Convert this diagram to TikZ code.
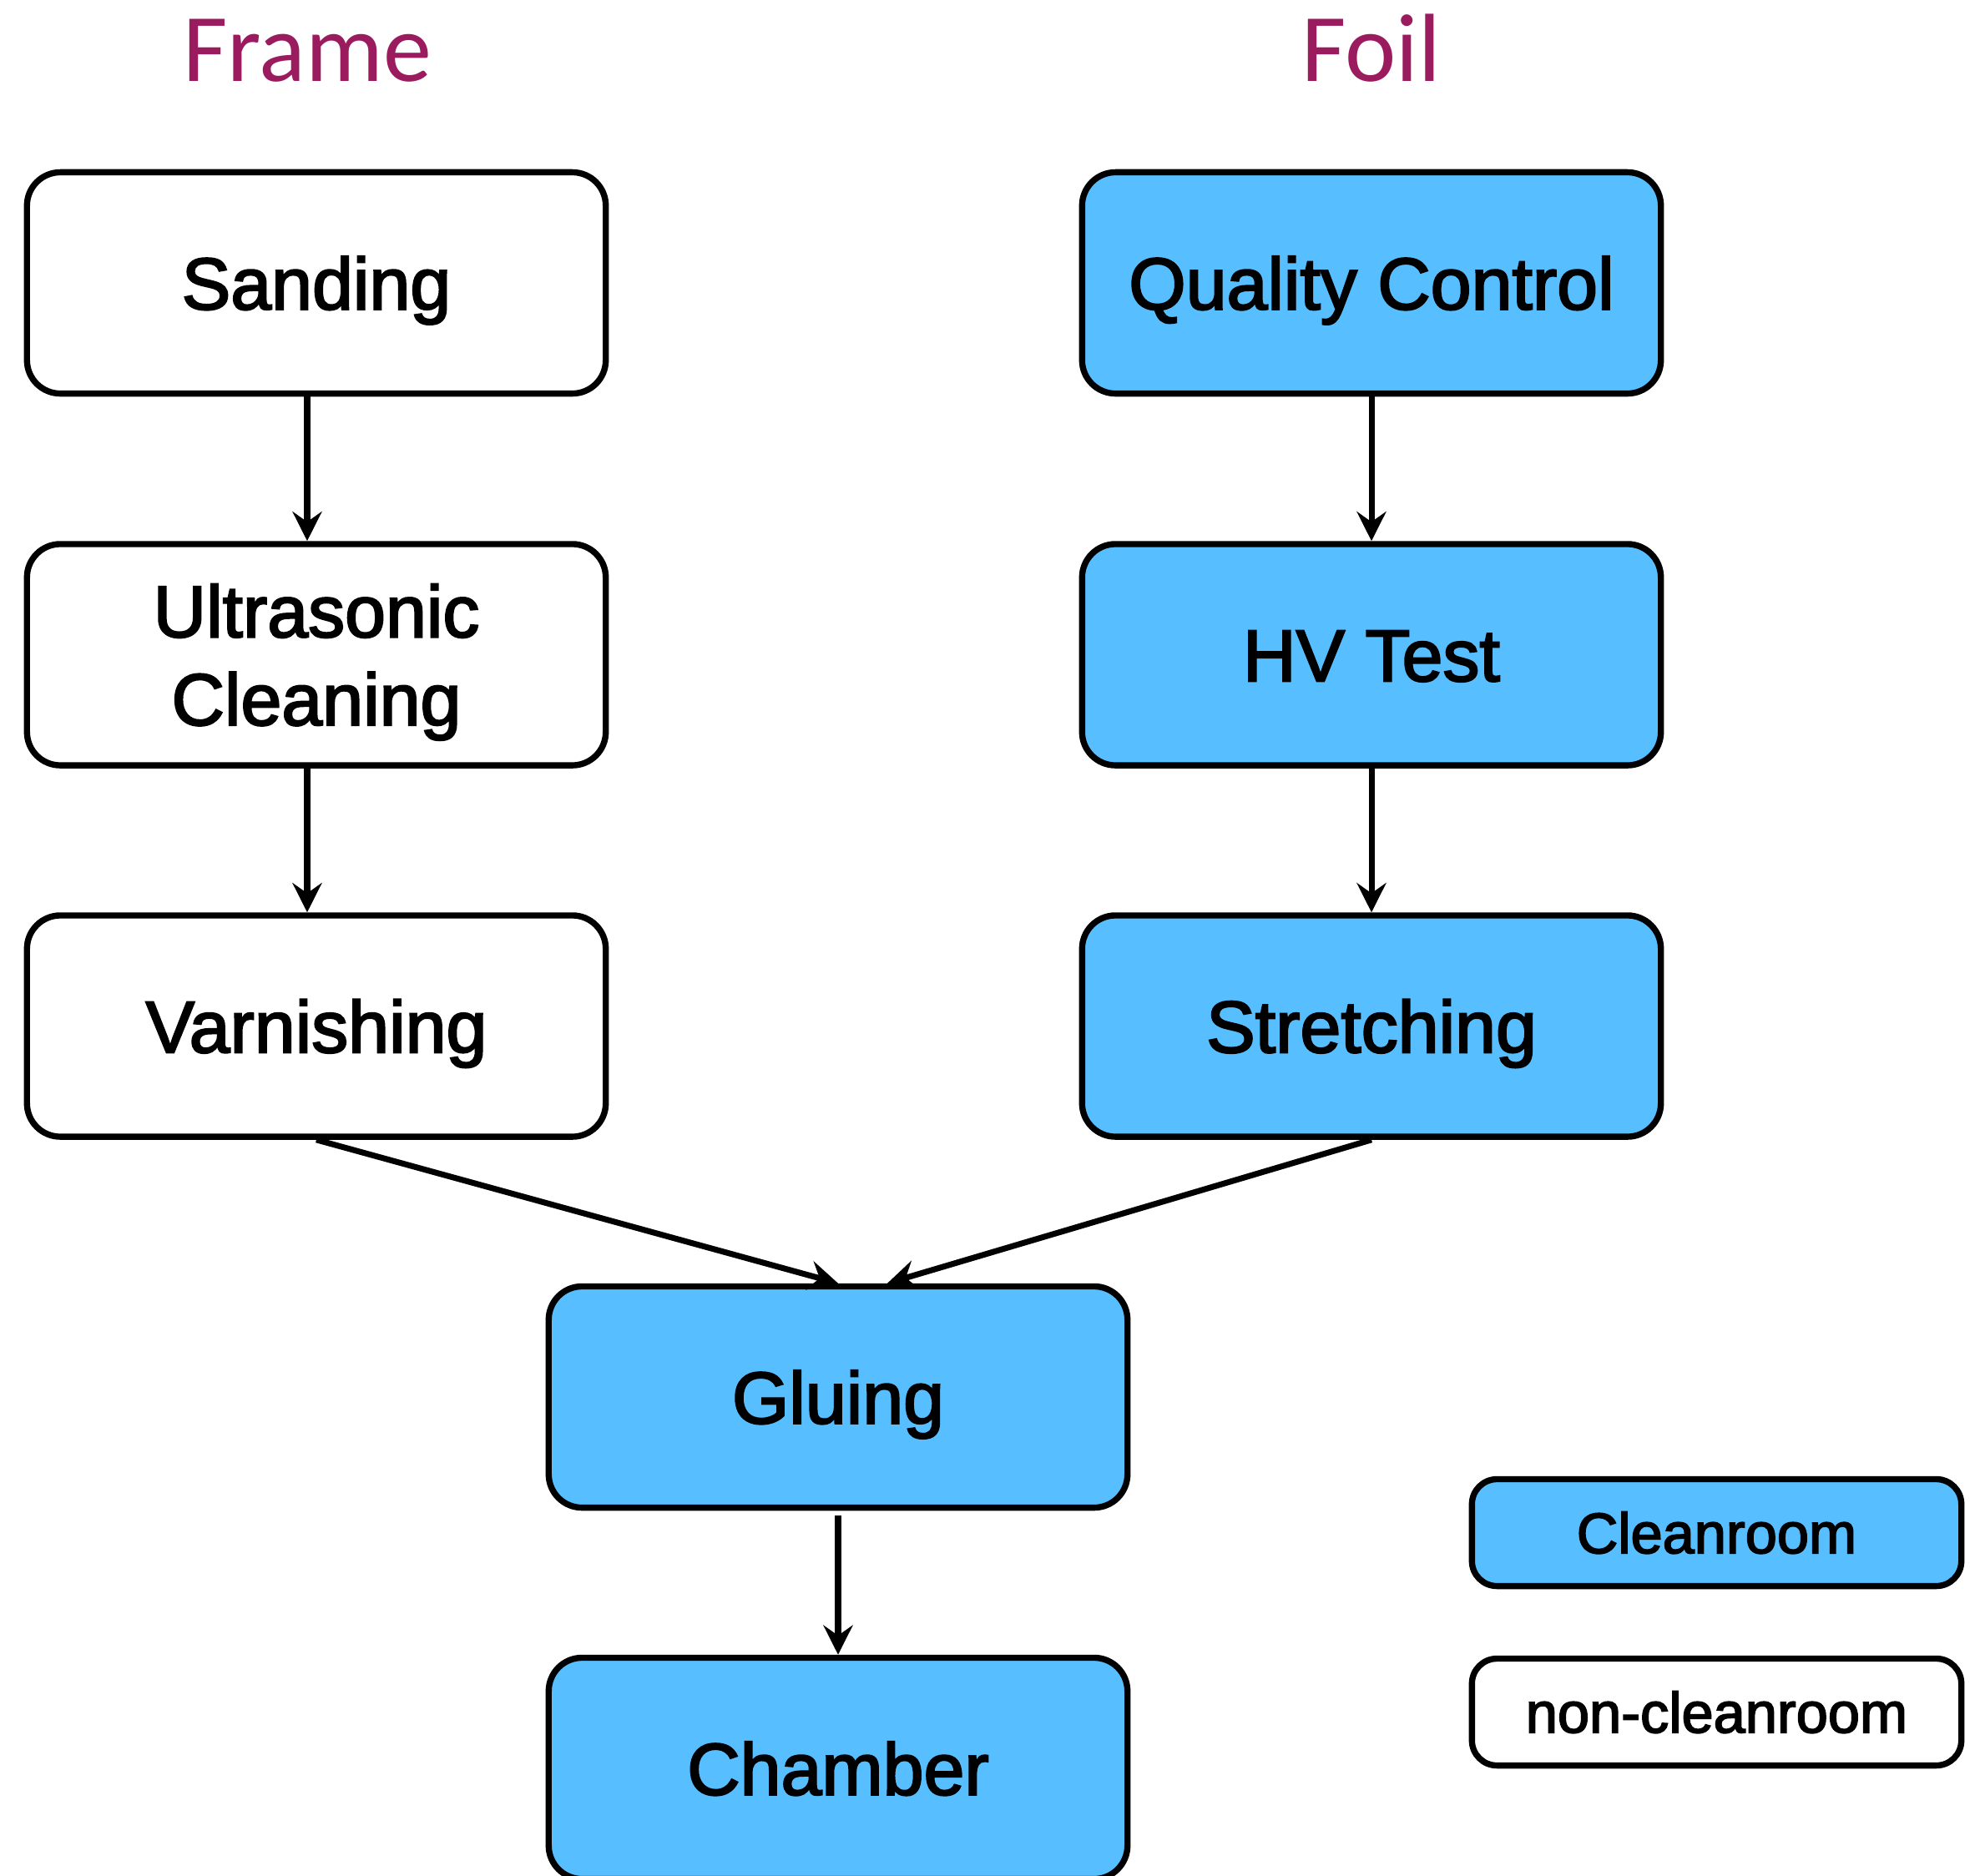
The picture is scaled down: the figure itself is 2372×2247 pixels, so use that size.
\documentclass[tikz,border=0pt]{standalone}
\usepackage{fontspec}
\setmainfont{Liberation Sans}
\newfontfamily\boxfont[FakeBold=2.5]{Liberation Sans}
\newfontfamily\titlefont{Carlito}
\usetikzlibrary{arrows.meta}
\definecolor{cleanblue}{RGB}{87,191,255}
\definecolor{titlepurple}{RGB}{155,27,95}
\tikzset{
  stepbox/.style={draw=black, line width=2.1pt, rounded corners=0.4cm,
    minimum width=6.93cm, minimum height=2.65cm, inner sep=0pt,
    font=\boxfont\fontsize{25}{30}\selectfont, text height=18pt, text depth=0pt, align=center},
  clean/.style={fill=cleanblue},
  legbox/.style={draw=black, line width=2.1pt, rounded corners=0.3cm,
    minimum width=5.86cm, minimum height=1.28cm, inner sep=0pt,
    font=\boxfont\fontsize{19.5}{23}\selectfont, text height=14pt, text depth=0pt},
  title/.style={text=titlepurple, font=\titlefont\fontsize{33}{40}\selectfont, anchor=base, inner sep=0pt},
  flow/.style={line width=2pt, -{Stealth[length=10pt, width=10pt, inset=3.5pt]}}
}
\begin{document}
\begin{tikzpicture}[x=0.01cm, y=-0.01cm]
\useasboundingbox (0,0) rectangle (2372,2247);
\node[title] (tframe) at (368,97) {Frame};
\node[title] (tfoil) at (1643,97) {Foil};

\node[stepbox] (san) at (379,339) {Sanding};
\node[stepbox, text height=48pt] (ult) at (379,784.5) {Ultrasonic\\Cleaning};
\node[stepbox] (var) at (379,1229.5) {Varnishing};

\node[stepbox, clean] (qc) at (1643,339) {Quality Control};
\node[stepbox, clean] (hv) at (1643,784.5) {HV Test};
\node[stepbox, clean] (str) at (1643,1229.5) {Stretching};

\node[stepbox, clean] (glu) at (1004,1674) {Gluing};
\node[stepbox, clean] (cha) at (1004,2119) {Chamber};

\node[legbox, clean] (leg1) at (2056.5,1836.5) {Cleanroom};
\node[legbox] (leg2) at (2056.5,2051.5) {non-cleanroom};

\draw[flow] ([xshift=-0.11cm]san.south) -- ([xshift=-0.11cm]ult.north);
\draw[flow] ([xshift=-0.11cm]ult.south) -- ([xshift=-0.11cm]var.north);
\draw[flow] (qc.south) -- (hv.north);
\draw[flow] (hv.south) -- (str.north);
\draw[flow] (var.south) -- (glu.north);
\draw[flow] (str.south) -- ([xshift=0.59cm]glu.north);
\draw[flow, shorten <=1.5pt] (glu.south) -- (cha.north);
\end{tikzpicture}
\end{document}
